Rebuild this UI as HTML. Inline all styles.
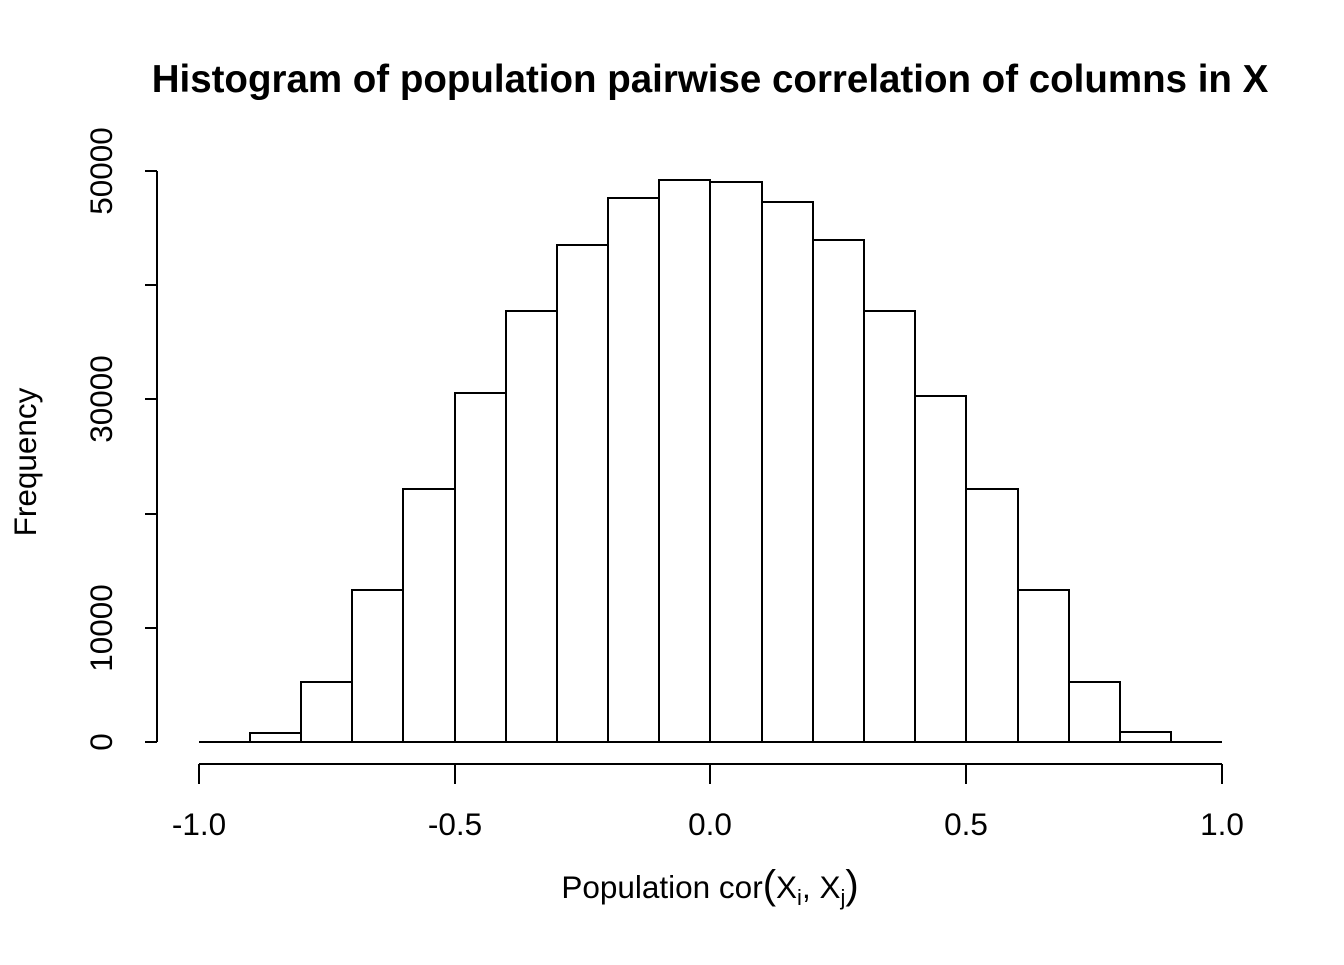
<!DOCTYPE html>
<html><head><meta charset="utf-8"><style>body{margin:0;background:#fff}</style></head>
<body>
<svg width="1344" height="960" xmlns="http://www.w3.org/2000/svg" font-family="Liberation Sans, Arial, sans-serif">
<rect width="1344" height="960" fill="#fff"/>
<text x="710" y="92" font-size="38.5" font-weight="bold" text-anchor="middle">Histogram of population pairwise correlation of columns in X</text>
<g fill="#fff" stroke="#000" stroke-width="2">
<rect x="250" y="733" width="51" height="9"/>
<rect x="301" y="682" width="51" height="60"/>
<rect x="352" y="590" width="51" height="152"/>
<rect x="403" y="489" width="52" height="253"/>
<rect x="455" y="393" width="51" height="349"/>
<rect x="506" y="311" width="51" height="431"/>
<rect x="557" y="245" width="51" height="497"/>
<rect x="608" y="198" width="51" height="544"/>
<rect x="659" y="180" width="51" height="562"/>
<rect x="710" y="182" width="52" height="560"/>
<rect x="762" y="202" width="51" height="540"/>
<rect x="813" y="240" width="51" height="502"/>
<rect x="864" y="311" width="51" height="431"/>
<rect x="915" y="396" width="51" height="346"/>
<rect x="966" y="489" width="52" height="253"/>
<rect x="1018" y="590" width="51" height="152"/>
<rect x="1069" y="682" width="51" height="60"/>
<rect x="1120" y="732" width="51" height="10"/>
</g>
<g stroke="#000" stroke-width="2" fill="none">
<line x1="199" y1="742" x2="1222" y2="742"/>
<line x1="157" y1="171" x2="157" y2="742"/>
<line x1="145" y1="742" x2="157" y2="742"/>
<line x1="145" y1="628" x2="157" y2="628"/>
<line x1="145" y1="514" x2="157" y2="514"/>
<line x1="145" y1="399" x2="157" y2="399"/>
<line x1="145" y1="285" x2="157" y2="285"/>
<line x1="145" y1="171" x2="157" y2="171"/>
<line x1="199" y1="764" x2="1222" y2="764"/>
<line x1="199" y1="764" x2="199" y2="784"/>
<line x1="455" y1="764" x2="455" y2="784"/>
<line x1="710" y1="764" x2="710" y2="784"/>
<line x1="966" y1="764" x2="966" y2="784"/>
<line x1="1222" y1="764" x2="1222" y2="784"/>
</g>
<g font-size="31.5" text-anchor="middle">
<text x="199" y="835">-1.0</text>
<text x="455" y="835">-0.5</text>
<text x="710" y="835">0.0</text>
<text x="966" y="835">0.5</text>
<text x="1222" y="835">1.0</text>
<text transform="translate(112,742) rotate(-90)">0</text>
<text transform="translate(112,628) rotate(-90)">10000</text>
<text transform="translate(112,399) rotate(-90)">30000</text>
<text transform="translate(112,171) rotate(-90)">50000</text>
<text transform="translate(36,462) rotate(-90)">Frequency</text>
<text x="710" y="898">Population cor<tspan font-size="40">(</tspan>X<tspan font-size="22" dy="7">i</tspan><tspan dy="-7">, X</tspan><tspan font-size="22" dy="7">j</tspan><tspan font-size="40" dy="-7">)</tspan></text>
</g>
</svg>
</body></html>
